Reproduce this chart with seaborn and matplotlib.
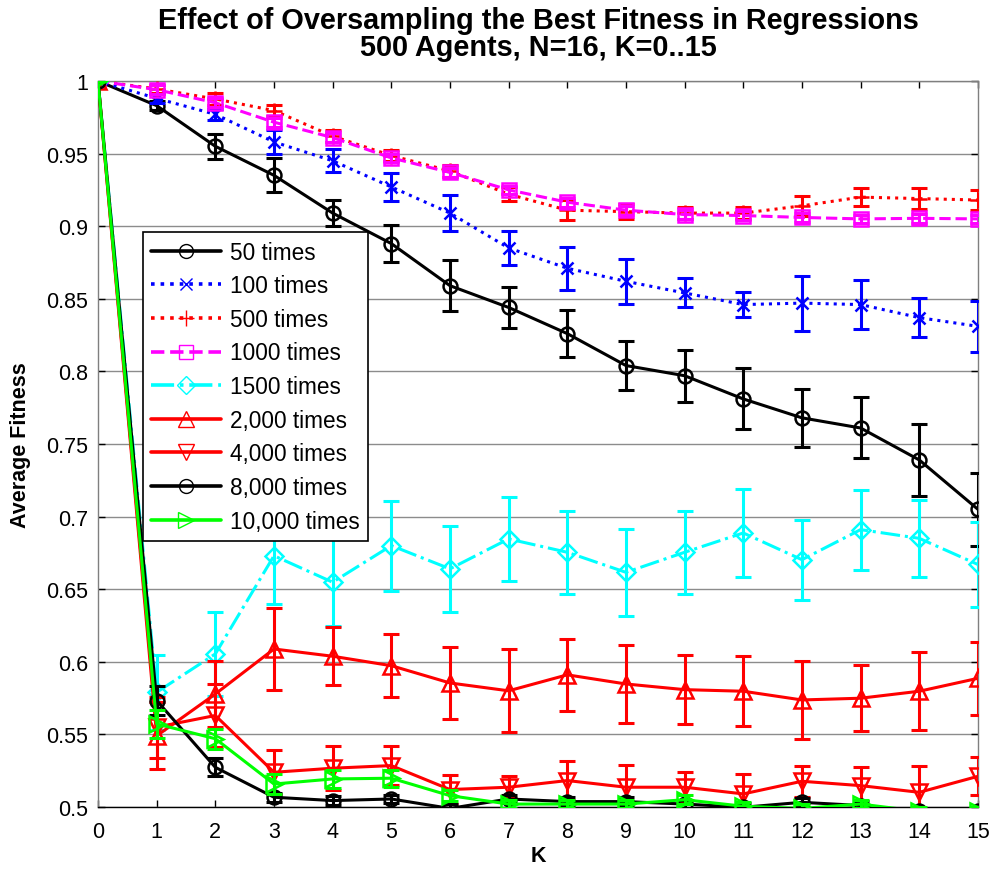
import matplotlib
matplotlib.use("Agg")
import matplotlib.pyplot as plt
import numpy as np
import pandas as pd
import seaborn as sns

# ---------------- data ----------------
K = list(range(16))
labels = ['50 times', '100 times', '500 times', '1000 times', '1500 times',
          '2,000 times', '4,000 times', '8,000 times', '10,000 times']

fit_50 = [1.0, 0.983, 0.955, 0.935, 0.909, 0.888, 0.859, 0.844, 0.826, 0.804, 0.797, 0.781, 0.768, 0.761, 0.739, 0.705]
err_50 = [0.0, 0.003, 0.0086, 0.0118, 0.0092, 0.0126, 0.0176, 0.014, 0.016, 0.017, 0.018, 0.021, 0.020, 0.021, 0.025, 0.025]
fit_100 = [1.0, 0.988, 0.977, 0.958, 0.945, 0.927, 0.909, 0.885, 0.871, 0.862, 0.854, 0.846, 0.847, 0.846, 0.837, 0.831]
err_100 = [0.0, 0.003, 0.004, 0.008, 0.0078, 0.0095, 0.0124, 0.0116, 0.0148, 0.0155, 0.010, 0.0088, 0.019, 0.017, 0.0136, 0.0174]
fit_500 = [1.0, 0.9945, 0.9876, 0.9796, 0.962, 0.9486, 0.938, 0.922, 0.911, 0.910, 0.909, 0.909, 0.914, 0.920, 0.919, 0.918]
err_500 = [0.0, 0.003, 0.004, 0.0035, 0.004, 0.004, 0.004, 0.005, 0.007, 0.005, 0.004, 0.004, 0.007, 0.006, 0.007, 0.0067]
fit_1000 = [1.0, 0.994, 0.985, 0.9716, 0.961, 0.947, 0.937, 0.925, 0.9165, 0.911, 0.908, 0.9073, 0.906, 0.905, 0.9054, 0.905]
err_1000 = [0.0, 0.003, 0.003, 0.003, 0.003, 0.003, 0.003, 0.003, 0.003, 0.003, 0.003, 0.003, 0.003, 0.003, 0.003, 0.003]
fit_1500 = [1.0, 0.579, 0.6054, 0.673, 0.6548, 0.680, 0.664, 0.6846, 0.6754, 0.6616, 0.6754, 0.6887, 0.6703, 0.691, 0.685, 0.667]
err_1500 = [0.0, 0.026, 0.0287, 0.033, 0.030, 0.031, 0.0296, 0.029, 0.0287, 0.030, 0.0287, 0.030, 0.0275, 0.0275, 0.0264, 0.029]
fit_2000 = [1.0, 0.549, 0.5778, 0.6088, 0.6038, 0.5973, 0.5854, 0.580, 0.591, 0.5847, 0.5808, 0.5797, 0.5737, 0.5749, 0.5797, 0.5886]
err_2000 = [0.0, 0.023, 0.0226, 0.028, 0.020, 0.0218, 0.025, 0.0285, 0.025, 0.027, 0.024, 0.024, 0.027, 0.0227, 0.027, 0.025]
fit_4000 = [1.0, 0.555, 0.563, 0.5239, 0.5267, 0.5285, 0.512, 0.5136, 0.5182, 0.5136, 0.5136, 0.509, 0.5177, 0.5147, 0.5101, 0.5211]
err_4000 = [0.0, 0.021, 0.022, 0.015, 0.015, 0.0133, 0.010, 0.0076, 0.0133, 0.015, 0.0103, 0.0138, 0.0108, 0.0126, 0.018, 0.013]
fit_8000 = [1.0, 0.5733, 0.5273, 0.5067, 0.5044, 0.5055, 0.499, 0.5055, 0.5037, 0.5037, 0.502, 0.4998, 0.5032, 0.501, 0.497, 0.497]
err_8000 = [0.0, 0.010, 0.0063, 0.003, 0.003, 0.003, 0.003, 0.003, 0.003, 0.003, 0.003, 0.003, 0.003, 0.003, 0.002, 0.002]
fit_10000 = [1.0, 0.5572, 0.547, 0.5158, 0.5193, 0.5198, 0.5078, 0.502, 0.502, 0.502, 0.505, 0.5005, 0.499, 0.502, 0.497, 0.497]
err_10000 = [0.0, 0.0097, 0.007, 0.007, 0.0065, 0.006, 0.004, 0.003, 0.003, 0.003, 0.003, 0.003, 0.003, 0.003, 0.003, 0.003]

y_ticks = [0.5, 0.55, 0.6, 0.65, 0.7, 0.75, 0.8, 0.85, 0.9, 0.95, 1.0]
y_tick_labels = ['0.5', '0.55', '0.6', '0.65', '0.7', '0.75', '0.8', '0.85', '0.9', '0.95', '1']

fits = [fit_50, fit_100, fit_500, fit_1000, fit_1500, fit_2000, fit_4000, fit_8000, fit_10000]
errs = [err_50, err_100, err_500, err_1000, err_1500, err_2000, err_4000, err_8000, err_10000]

# ---------------- styles ----------------
colors = ['#000000', '#0000ff', '#ff0000', '#ff00ff', '#00ffff',
          '#ff0000', '#ff0000', '#000000', '#00ff00']
linestyles = ['-', ':', ':', '--', '-.', '-', '-', '-', '-']
markers = ['o', 'x', '+', 's', 'D', '^', 'v', 'o', '>']
msizes = [10, 9, 11, 10, 9, 12, 12, 10, 12]

sns.set_theme(style='white')
plt.rcParams['font.family'] = ['Liberation Sans', 'DejaVu Sans']
plt.rcParams['text.color'] = 'black'
plt.rcParams['axes.labelcolor'] = 'black'
plt.rcParams['xtick.color'] = 'black'
plt.rcParams['ytick.color'] = 'black'

fig = plt.figure(figsize=(9.92, 8.7), dpi=100)
ax = fig.add_axes([0.0988, 0.0713, 0.887, 0.8345])

for i, (fit, err) in enumerate(zip(fits, errs)):
    c = colors[i]
    ax.errorbar(K, fit, yerr=err, fmt='none', ecolor=c, elinewidth=2.2,
                capsize=6, capthick=2.2, zorder=3 + i * 0.1)
    sns.lineplot(x=K, y=fit, ax=ax, color=c, linestyle=linestyles[i],
                 linewidth=2.2, marker=markers[i], markersize=msizes[i],
                 markerfacecolor='none', markeredgecolor=c, markeredgewidth=1.8,
                 zorder=3.05 + i * 0.1, legend=False)

leg_handles = []
for i in range(len(labels)):
    h, = ax.plot([], [], color=colors[i], linestyle=linestyles[i], linewidth=2.6,
                 marker=markers[i], markersize=msizes[i], markerfacecolor='none',
                 markeredgecolor=colors[i], markeredgewidth=1.0)
    leg_handles.append(h)

leg = ax.legend(leg_handles, labels, loc='upper left', bbox_to_anchor=(0.051, 0.792),
                fontsize=16.3, frameon=True, fancybox=False, edgecolor='black',
                framealpha=1, handlelength=3.05, handletextpad=0.4, labelspacing=0.47,
                borderpad=0.38, borderaxespad=0, numpoints=1)
leg.get_frame().set_linewidth(1.2)
leg.set_zorder(10)
for t in leg.get_texts():
    t.set_color('black')

ax.set_xlim(0, 15)
ax.set_ylim(0.5, 1.0)
ax.set_xticks(K)
ax.set_xticklabels([str(k) for k in K])
ax.set_yticks(y_ticks)
ax.set_yticklabels(y_tick_labels)
ax.yaxis.grid(True, color='#8c8c8c', linewidth=1.0, linestyle='-')
ax.xaxis.grid(False)
ax.set_axisbelow(True)
ax.tick_params(axis='both', which='major', direction='in', length=5, width=1,
               colors='black', labelsize=15.5, top=True, right=True,
               bottom=True, left=True, pad=7)
ax.tick_params(axis='x', pad=10)
for side in ['left', 'top', 'right']:
    ax.spines[side].set_color('#7f7f7f')
    ax.spines[side].set_linewidth(1.0)
ax.spines['bottom'].set_color('black')
ax.spines['bottom'].set_linewidth(1.0)

ax.set_title('Effect of Oversampling the Best Fitness in Regressions\n500 Agents, N=16, K=0..15',
             fontsize=20.8, fontweight='bold', pad=19, linespacing=0.95, color='black')
ax.set_xlabel('K', fontsize=15.5, fontweight='bold')
ax.set_ylabel('Average Fitness', fontsize=15.5, fontweight='bold')
ax.xaxis.set_label_coords(0.5, -0.052)
ax.yaxis.set_label_coords(-0.076, 0.5)

fig.savefig('out.png', dpi=100)
